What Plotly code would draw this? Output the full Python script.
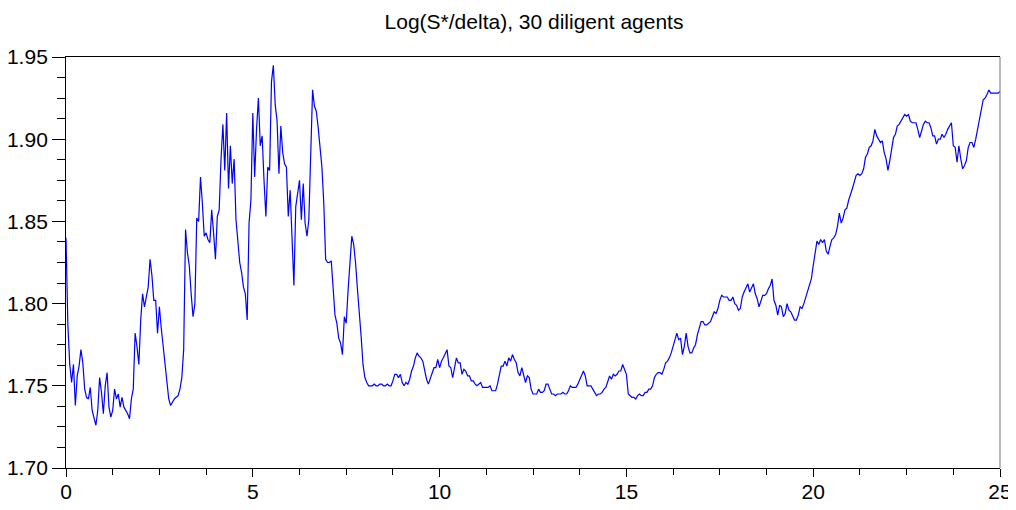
import numpy as np
import plotly.graph_objects as go

STEP = 0.05

seg_a_start = 0.0
seg_a = [1.840, 1.787, 1.763, 1.752, 1.763, 1.738, 1.756, 1.762, 1.772, 1.764,
         1.748, 1.743, 1.742, 1.749, 1.735, 1.730, 1.726, 1.735, 1.755, 1.746,
         1.733, 1.750, 1.758, 1.737, 1.731, 1.735, 1.748, 1.742, 1.745, 1.737,
         1.743, 1.737, 1.735, 1.733, 1.730, 1.742, 1.748, 1.782, 1.774, 1.763,
         1.790, 1.806, 1.798, 1.804, 1.810, 1.827, 1.817, 1.802, 1.802, 1.782,
         1.798, 1.785, 1.774, 1.761, 1.749, 1.742, 1.738, 1.740, 1.742, 1.743,
         1.744, 1.748, 1.755, 1.772, 1.845, 1.831, 1.823, 1.806, 1.792, 1.800,
         1.852, 1.850, 1.877, 1.861, 1.841, 1.843, 1.839, 1.837, 1.857, 1.843,
         1.827, 1.853, 1.857, 1.888, 1.909, 1.881, 1.916, 1.870, 1.896, 1.873,
         1.888, 1.851, 1.835, 1.825]

seg_b_start = 4.70
seg_b = [1.819, 1.810, 1.806, 1.790, 1.849, 1.863, 1.916, 1.877, 1.906, 1.925,
         1.896, 1.902, 1.875, 1.853, 1.883, 1.881, 1.935, 1.945, 1.921, 1.911,
         1.879, 1.908, 1.892, 1.885, 1.883, 1.853, 1.869, 1.843, 1.811, 1.859,
         1.867, 1.875, 1.851, 1.873, 1.849, 1.841, 1.851, 1.890, 1.930, 1.920,
         1.917, 1.907, 1.892, 1.883, 1.861, 1.827, 1.825, 1.825, 1.826, 1.812,
         1.793, 1.788, 1.779, 1.776, 1.769, 1.792, 1.788, 1.808, 1.827, 1.841,
         1.836, 1.825, 1.809, 1.796, 1.780, 1.763, 1.755, 1.752, 1.750, 1.750,
         1.750, 1.751, 1.750, 1.750, 1.751, 1.751, 1.750, 1.750, 1.751, 1.750,
         1.750, 1.753, 1.757, 1.757, 1.755, 1.757]

seg_c_start = 9.00
seg_c = [1.752, 1.750, 1.752, 1.751, 1.754, 1.759, 1.762, 1.767, 1.770, 1.768,
         1.767, 1.765, 1.759, 1.754, 1.751, 1.754, 1.757, 1.761, 1.761, 1.766,
         1.761, 1.765, 1.767, 1.770, 1.772, 1.762, 1.761, 1.755, 1.762, 1.767,
         1.764, 1.764, 1.757, 1.760, 1.759, 1.756, 1.756, 1.753, 1.753, 1.751,
         1.750, 1.751, 1.752, 1.749, 1.749, 1.749, 1.749, 1.750, 1.747, 1.747,
         1.747, 1.751, 1.756, 1.762, 1.762, 1.765, 1.762, 1.767, 1.765, 1.769,
         1.766, 1.764, 1.758, 1.756, 1.761, 1.757, 1.752, 1.756, 1.755, 1.748,
         1.745, 1.745, 1.745, 1.748, 1.746, 1.746, 1.747, 1.751, 1.751, 1.748,
         1.745, 1.745, 1.744, 1.745, 1.745]

seg_d_start = 13.25
seg_d = [1.745, 1.746, 1.745, 1.745, 1.747, 1.750, 1.749, 1.749, 1.749, 1.751,
         1.754, 1.757, 1.759, 1.756, 1.750, 1.750, 1.750, 1.748, 1.746, 1.744,
         1.745, 1.745, 1.746, 1.748, 1.749, 1.752, 1.756, 1.754, 1.757, 1.756,
         1.757, 1.759, 1.759, 1.763, 1.760, 1.757, 1.745, 1.744, 1.743, 1.743,
         1.742, 1.744, 1.745, 1.744, 1.744, 1.746, 1.746, 1.748, 1.748, 1.750,
         1.755, 1.757, 1.758, 1.758, 1.757, 1.760, 1.764, 1.765, 1.767, 1.770,
         1.774, 1.777, 1.782, 1.778, 1.779, 1.769, 1.774, 1.782, 1.774, 1.770,
         1.770, 1.773, 1.775, 1.781, 1.786, 1.789, 1.789, 1.787, 1.787, 1.788,
         1.789, 1.792, 1.795, 1.794, 1.797, 1.802, 1.805, 1.804, 1.804, 1.804,
         1.802, 1.802, 1.804, 1.800, 1.799, 1.796, 1.797, 1.804, 1.807, 1.810,
         1.812, 1.807, 1.810, 1.812, 1.806, 1.803, 1.798, 1.802]

seg_e_start = 18.65
seg_e = [1.805, 1.805, 1.806, 1.809, 1.811, 1.815, 1.802, 1.799, 1.793, 1.799,
         1.798, 1.792, 1.794, 1.800, 1.796, 1.795, 1.792, 1.790, 1.790, 1.793,
         1.798, 1.797, 1.800, 1.804, 1.808, 1.811, 1.815, 1.823, 1.831, 1.838,
         1.836, 1.839, 1.837, 1.839, 1.832, 1.830, 1.835, 1.839, 1.840, 1.842,
         1.847, 1.855, 1.849, 1.852, 1.857, 1.858, 1.863, 1.866, 1.870, 1.874,
         1.878, 1.879, 1.878, 1.879, 1.882, 1.889, 1.891, 1.895, 1.896, 1.899,
         1.906, 1.902, 1.900, 1.898, 1.899, 1.892, 1.888, 1.881, 1.887, 1.895,
         1.901, 1.903, 1.908, 1.909, 1.911, 1.913, 1.915, 1.914, 1.915, 1.911,
         1.910, 1.910, 1.910, 1.906, 1.901, 1.905, 1.909, 1.911, 1.910, 1.910,
         1.907, 1.902, 1.902, 1.897, 1.900, 1.900, 1.903, 1.901, 1.903, 1.906,
         1.908, 1.910, 1.896, 1.895, 1.886, 1.896, 1.888, 1.882, 1.884, 1.887,
         1.895, 1.898, 1.898, 1.895, 1.900, 1.906, 1.911, 1.918, 1.924, 1.925,
         1.927, 1.930, 1.928, 1.928, 1.928, 1.928, 1.928, 1.929]

segments = [(seg_a_start, seg_a), (seg_b_start, seg_b), (seg_c_start, seg_c),
            (seg_d_start, seg_d), (seg_e_start, seg_e)]

t_all, v_all = [], []
for start, vals in segments:
    t_all.extend(start + STEP * np.arange(len(vals)))
    v_all.extend(vals)

TITLE = "Log(S*/delta), 30 diligent agents"
x_ticks = [0, 5, 10, 15, 20, 25]
y_ticks = [1.70, 1.75, 1.80, 1.85, 1.90, 1.95]

tick_font = dict(family="Liberation Sans, Arial", size=21, color="black")

# the page body has an 8px margin, so the figure is sized to sit inside the window
FIG_W, FIG_H = 1008, 494

fig = go.Figure(go.Scatter(x=t_all, y=v_all, mode="lines",
                           line=dict(color="#0000ff", width=1.2),
                           hoverinfo="skip"))

fig.update_layout(
    width=FIG_W, height=FIG_H,
    margin=dict(l=58, r=16, t=49, b=34, autoexpand=False),
    paper_bgcolor="white", plot_bgcolor="white",
    showlegend=False,
    title=dict(text=TITLE, x=526 / FIG_W, xanchor="center", xref="container",
               y=1 - 14 / FIG_H, yanchor="middle", yref="container",
               font=dict(family="Liberation Sans, Arial", size=21, color="black")),
)
fig.update_xaxes(range=[0, 25], tickvals=x_ticks, ticktext=[str(v) for v in x_ticks],
                 ticks="outside", ticklen=8, tickcolor="black", tickwidth=1,
                 ticklabelstandoff=-3,
                 showline=True, linecolor="black", linewidth=1, mirror=True,
                 showgrid=False, zeroline=False, tickfont=tick_font, automargin=False,
                 minor=dict(dtick=1.25, tick0=0, ticks="outside", ticklen=6,
                            tickcolor="black", tickwidth=1, showgrid=False))
fig.update_yaxes(range=[1.70, 1.95], tickvals=y_ticks, ticktext=[f"{v:.2f}" for v in y_ticks],
                 ticks="outside", ticklen=13, tickcolor="black", tickwidth=1,
                 showline=True, linecolor="black", linewidth=1, mirror=False,
                 showgrid=False, zeroline=False, tickfont=tick_font, automargin=False,
                 minor=dict(dtick=0.0125, tick0=1.70, ticks="outside", ticklen=8,
                            tickcolor="black", tickwidth=1, showgrid=False))
fig.add_shape(type="line", xref="paper", yref="paper", x0=1, x1=1, y0=0, y1=1,
              line=dict(color="#777777", width=1))

fig.write_html("out.html")
